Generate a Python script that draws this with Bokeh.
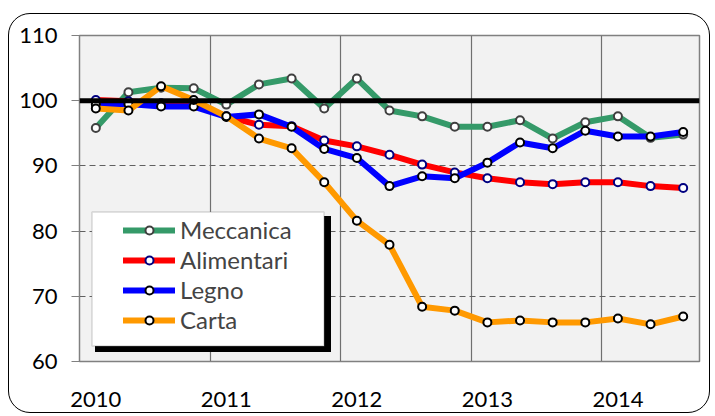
from bokeh.plotting import figure
from bokeh.models import FixedTicker, Span, Legend, LegendItem, BoxAnnotation, ColumnDataSource, Range1d
from bokeh.embed import file_html
from bokeh.resources import INLINE

# Quarterly index values (2010 Q1 ... 2014 Q3)
quarters = list(range(19))
year_ticks = [0, 4, 8, 12, 16]
year_labels = ["2010", "2011", "2012", "2013", "2014"]
y_ticks = [60, 70, 80, 90, 100, 110]

meccanica = [95.8, 101.3, 102.0, 101.9, 99.4, 102.5, 103.4, 98.8, 103.4, 98.5,
             97.6, 96.0, 96.0, 97.0, 94.2, 96.7, 97.6, 94.3, 94.8]
alimentari = [100.1, 99.9, 99.6, 99.6, 97.6, 96.3, 96.1, 93.9, 93.0, 91.7,
              90.2, 89.0, 88.1, 87.5, 87.2, 87.5, 87.5, 86.9, 86.6]
legno = [99.4, 99.5, 99.1, 99.1, 97.5, 97.9, 96.0, 92.6, 91.2, 86.9,
         88.4, 88.1, 90.5, 93.6, 92.7, 95.4, 94.5, 94.5, 95.2]
carta = [98.8, 98.5, 102.2, 100.1, 97.6, 94.2, 92.7, 87.5, 81.6, 77.9,
         68.4, 67.8, 66.0, 66.3, 66.0, 66.0, 66.6, 65.7, 66.9]

series = [
    ("Meccanica", meccanica, "#359a69", "#404040"),
    ("Alimentari", alimentari, "#ff0000", "#000080"),
    ("Legno", legno, "#0000ff", "#000000"),
    ("Carta", carta, "#ff9900", "#000000"),
]

FONT = "Lato"

p = figure(width=702, height=400, output_backend="svg", toolbar_location=None,
           x_range=Range1d(-0.5, 18.5), y_range=Range1d(60, 110),
           min_border_left=70, min_border_right=12, min_border_top=21, min_border_bottom=53)
p.styles = {"margin-left": "8px", "margin-top": "13px", "border": "1.5px solid black",
            "border-radius": "22px", "background": "white", "overflow": "hidden"}

p.background_fill_color = "#f2f2f2"
p.border_fill_alpha = 0
p.outline_line_color = "#808080"
p.outline_line_width = 1.5

# axes
p.xaxis.ticker = FixedTicker(ticks=year_ticks)
p.xaxis.major_label_overrides = {t: l for t, l in zip(year_ticks, year_labels)}
p.xaxis.major_tick_line_color = None
p.xaxis.minor_tick_line_color = None
p.xaxis.axis_line_color = "#808080"
p.xaxis.major_label_standoff = 24
p.yaxis.ticker = FixedTicker(ticks=y_ticks)
p.yaxis.minor_tick_line_color = None
p.yaxis.major_tick_out = 8
p.yaxis.major_tick_in = 0
p.yaxis.major_tick_line_color = "#808080"
p.yaxis.axis_line_color = "#808080"
p.yaxis.major_label_standoff = 14
for ax in (p.xaxis, p.yaxis):
    ax.major_label_text_font = FONT
    ax.major_label_text_font_size = "22px"
    ax.major_label_text_color = "black"

# grids
p.xgrid.ticker = FixedTicker(ticks=[3.5, 7.5, 11.5, 15.5])
p.xgrid.grid_line_color = "#707070"
p.xgrid.grid_line_width = 1.2
p.ygrid.grid_line_color = "#606060"
p.ygrid.grid_line_dash = "6 4"
p.ygrid.grid_line_width = 1.2

# baseline at 100
p.add_layout(Span(location=100, dimension="width", line_color="black", line_width=5))

items = []
for name, vals, col, edge in series:
    src = ColumnDataSource(dict(x=quarters, y=vals))
    ln = p.line("x", "y", source=src, line_color=col, line_width=6, line_join="round", line_cap="round")
    sc = p.scatter("x", "y", source=src, size=8, fill_color="white", line_color=edge, line_width=2)
    items.append(LegendItem(label=name, renderers=[ln, sc]))

# legend box with shadow
p.add_layout(BoxAnnotation(left=84.5, right=320.5, top=200.5, bottom=336.5,
                           left_units="canvas", right_units="canvas", top_units="canvas", bottom_units="canvas",
                           fill_color="black", fill_alpha=1, line_color=None))
p.add_layout(BoxAnnotation(left=81.5, right=313.5, top=196.5, bottom=330.5,
                           left_units="canvas", right_units="canvas", top_units="canvas", bottom_units="canvas",
                           fill_color="white", fill_alpha=1, line_color="#808080", line_width=1.5))

legend = Legend(items=items, location=(44, 27), padding=6, spacing=1,
                glyph_width=52, glyph_height=20, label_height=20, label_standoff=5,
                label_text_font=FONT, label_text_font_size="24px",
                background_fill_alpha=0, border_line_color=None, margin=0)
p.add_layout(legend)

open("out.html", "w").write(file_html(p, INLINE))
